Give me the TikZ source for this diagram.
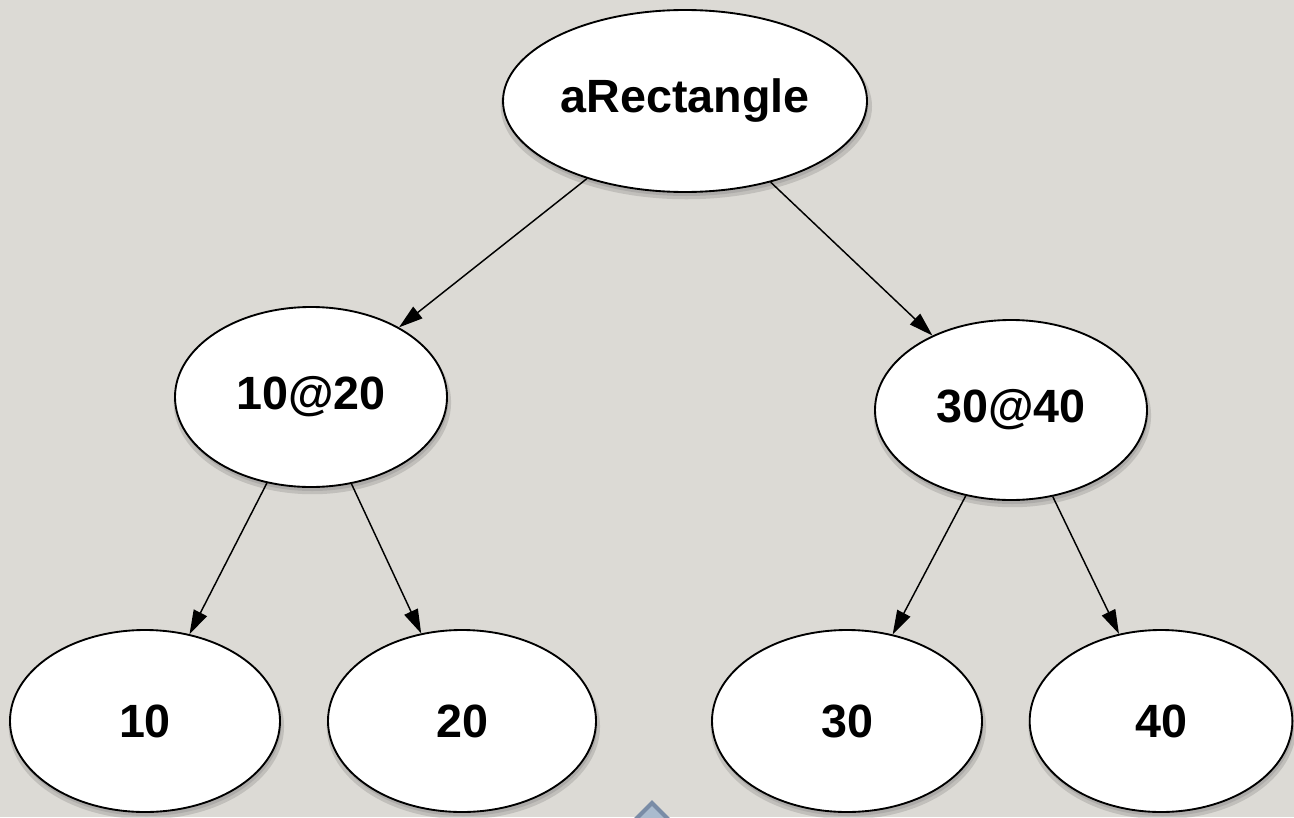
\documentclass[tikz,border=0pt]{standalone}
\usepackage{fontspec}
\setmainfont{Liberation Sans}
\usepackage{tikz}
\usetikzlibrary{shapes.geometric,arrows.meta,shadows}

\definecolor{paper}{RGB}{220,218,213}
\definecolor{markline}{RGB}{122,140,166}
\definecolor{markfill}{RGB}{170,187,206}

\begin{document}
\begin{tikzpicture}[x=0.75pt,y=0.75pt,yscale=-1,xscale=1,
  oval/.style={ellipse,draw=black,line width=1.4pt,fill=white,inner sep=0pt,
    minimum width=204pt,minimum height=135pt,font=\fontsize{35}{42}\selectfont\bfseries,
    general shadow={shadow xshift=1pt,shadow yshift=-4pt,shadow scale=1.02,fill=black,opacity=0.12},
    drop shadow={shadow xshift=1pt,shadow yshift=-3pt,opacity=0.3}},
  link/.style={line width=1.1pt,-{Triangle[length=18pt,width=11pt]}}]
%set diagram size 1294 x 817
\path[use as bounding box,fill=paper] (0,0) rectangle (1294,817);

%Shape: Diamond mark at the bottom edge
\draw[markline,line width=3pt,fill=markfill] (652,803) -- (672,823) -- (652,843) -- (632,823) -- cycle;

%Shape: Ellipse (root)
\node[oval,minimum width=273pt,minimum height=136.5pt] (rect) at (685,101) {aRectangle};
%Shape: Ellipse (left point)
\node[oval] (p1) at (311,397) {10@20};
%Shape: Ellipse (right point)
\node[oval] (p2) at (1011,410) {30@40};
%Shape: Ellipse (leaves)
\node[oval,minimum width=202.5pt,minimum height=136.5pt] (x1) at (145,721) {10};
\node[oval,minimum width=201pt,minimum height=136.5pt] (y1) at (462,721) {20};
\node[oval,minimum width=202.5pt,minimum height=136.5pt] (x2) at (847,721) {30};
\node[oval,minimum width=197pt,minimum height=136.5pt] (y2) at (1161,721) {40};

%Straight Lines with arrows
\draw[link] (rect) -- (p1);
\draw[link] (rect) -- (p2);
\draw[link] (p1) -- (x1);
\draw[link] (p1) -- (y1);
\draw[link] (p2) -- (x2);
\draw[link] (p2) -- (y2);

\end{tikzpicture}
\end{document}
